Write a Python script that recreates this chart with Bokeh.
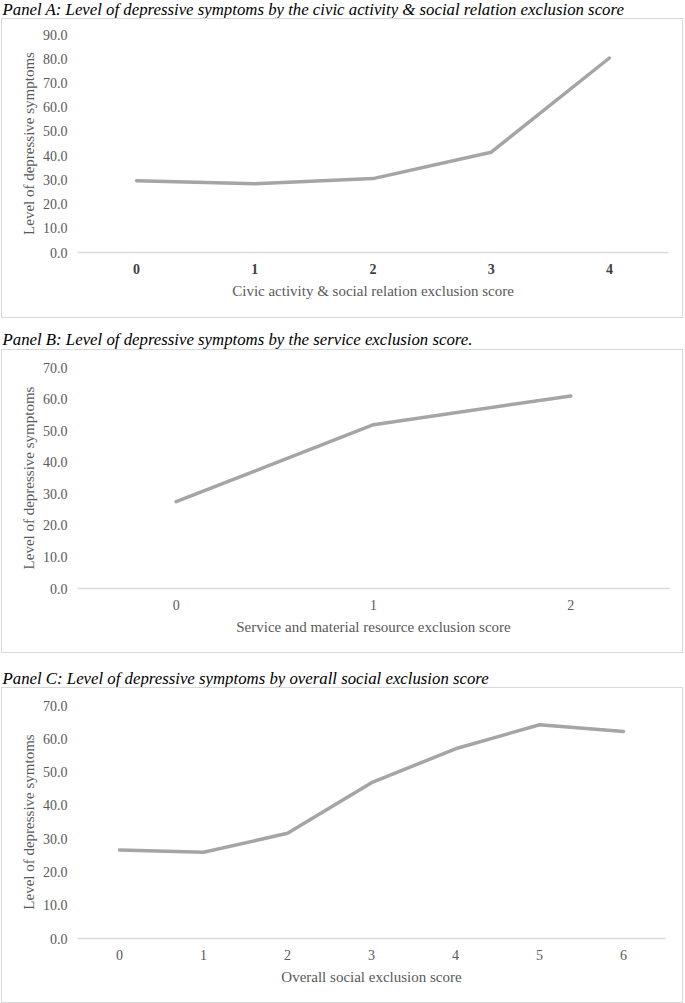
from bokeh.plotting import figure
from bokeh.models import FactorRange, Range1d, NumeralTickFormatter, SingleIntervalTicker
from bokeh.core.properties import value
from bokeh.layouts import column
from bokeh.embed import file_html
from bokeh.resources import INLINE

a_scores = ["0", "1", "2", "3", "4"]
a_values = [29.6, 28.4, 30.5, 41.4, 80.3]
b_scores = ["0", "1", "2"]
b_values = [27.5, 51.9, 61.0]
c_scores = ["0", "1", "2", "3", "4", "5", "6"]
c_values = [26.6, 25.9, 31.6, 46.8, 57.0, 64.2, 62.2]

a_title = "Panel A: Level of depressive symptoms by the civic activity & social relation exclusion score"
b_title = "Panel B: Level of depressive symptoms by the service exclusion score."
c_title = "Panel C: Level of depressive symptoms by overall social exclusion score"
a_xlabel = "Civic activity & social relation exclusion score"
b_xlabel = "Service and material resource exclusion score"
c_xlabel = "Overall social exclusion score"
a_ylabel = "Level of depressive symptoms"
b_ylabel = "Level of depressive symptoms"
c_ylabel = "Level of depressive symtoms"

FONT = "Liberation Serif"
GREY_TXT = "#595959"
W = 685
OUTER_W = 682
INNER_W = 680


def title_strip(text, H, center):
    t = figure(width=W, height=H, x_range=Range1d(0, W), y_range=Range1d(0, H),
               x_axis_type=None, y_axis_type=None, output_backend="svg",
               toolbar_location=None, min_border=0, frame_align=False)
    t.outline_line_color = None
    t.background_fill_color = "white"
    t.border_fill_color = "white"
    t.text(x=[2], y=[H - center], text=[text], text_font=value(FONT),
           text_font_style="italic", text_font_size="16.8px", text_color="black",
           text_baseline="middle", text_align="left")
    return t


def panel(scores, values, ymax, xlabel, ylabel, bold, H, frame_top, frame_bottom, frame_right):
    p = figure(width=OUTER_W, height=H + 2, x_range=FactorRange(*scores, range_padding=0),
               y_range=Range1d(0, ymax), output_backend="svg", toolbar_location=None,
               min_border_left=75, min_border_right=INNER_W - frame_right + 2,
               min_border_top=frame_top, min_border_bottom=H - frame_bottom + 2,
               frame_align=False,
               styles={"border": "1px solid #D9D9D9", "margin-left": "1px"})
    p.outline_line_color = None
    p.xgrid.visible = False
    p.ygrid.visible = False
    p.background_fill_color = "white"
    p.border_fill_color = "white"

    p.line(x=scores, y=values, line_color="#A5A5A5", line_width=3.5,
           line_join="round", line_cap="round")

    xa = p.xaxis[0]
    xa.axis_line_color = "#D9D9D9"
    xa.axis_line_width = 1.3
    xa.major_tick_line_color = None
    xa.minor_tick_line_color = None
    xa.major_tick_out = 0
    xa.major_tick_in = 0
    xa.major_label_text_font = FONT
    xa.major_label_text_font_size = "14px"
    xa.major_label_text_color = "#404040" if bold else GREY_TXT
    xa.major_label_text_font_style = "bold" if bold else "normal"
    xa.major_label_standoff = 11
    xa.axis_label = xlabel
    xa.axis_label_text_font = FONT
    xa.axis_label_text_font_style = "normal"
    xa.axis_label_text_font_size = "15px"
    xa.axis_label_text_color = GREY_TXT
    xa.axis_label_standoff = 6

    ya = p.yaxis[0]
    ya.ticker = SingleIntervalTicker(interval=10)
    ya.formatter = NumeralTickFormatter(format="0.0")
    ya.axis_line_color = None
    ya.major_tick_line_color = None
    ya.minor_tick_line_color = None
    ya.major_tick_out = 0
    ya.major_tick_in = 0
    ya.major_label_text_font = FONT
    ya.major_label_text_font_size = "14px"
    ya.major_label_text_color = GREY_TXT
    ya.major_label_standoff = 6
    ya.axis_label = ylabel
    ya.axis_label_text_font = FONT
    ya.axis_label_text_font_style = "normal"
    ya.axis_label_text_font_size = "15px"
    ya.axis_label_text_color = GREY_TXT
    ya.axis_label_standoff = 3
    return p


ta = title_strip(a_title, 18, 9)
pa = panel(a_scores, a_values, 90, a_xlabel, a_ylabel, True,
           H=298, frame_top=15, frame_bottom=233, frame_right=666)
tb = title_strip(b_title, 31, 21)
pb = panel(b_scores, b_values, 70, b_xlabel, b_ylabel, False,
           H=302, frame_top=17, frame_bottom=238, frame_right=667)
tc = title_strip(c_title, 34, 25)
pc = panel(c_scores, c_values, 70, c_xlabel, c_ylabel, False,
           H=314, frame_top=17, frame_bottom=250, frame_right=663)

layout = column(ta, pa, tb, pb, tc, pc, spacing=0)

open("out.html", "w").write(file_html(layout, INLINE))
